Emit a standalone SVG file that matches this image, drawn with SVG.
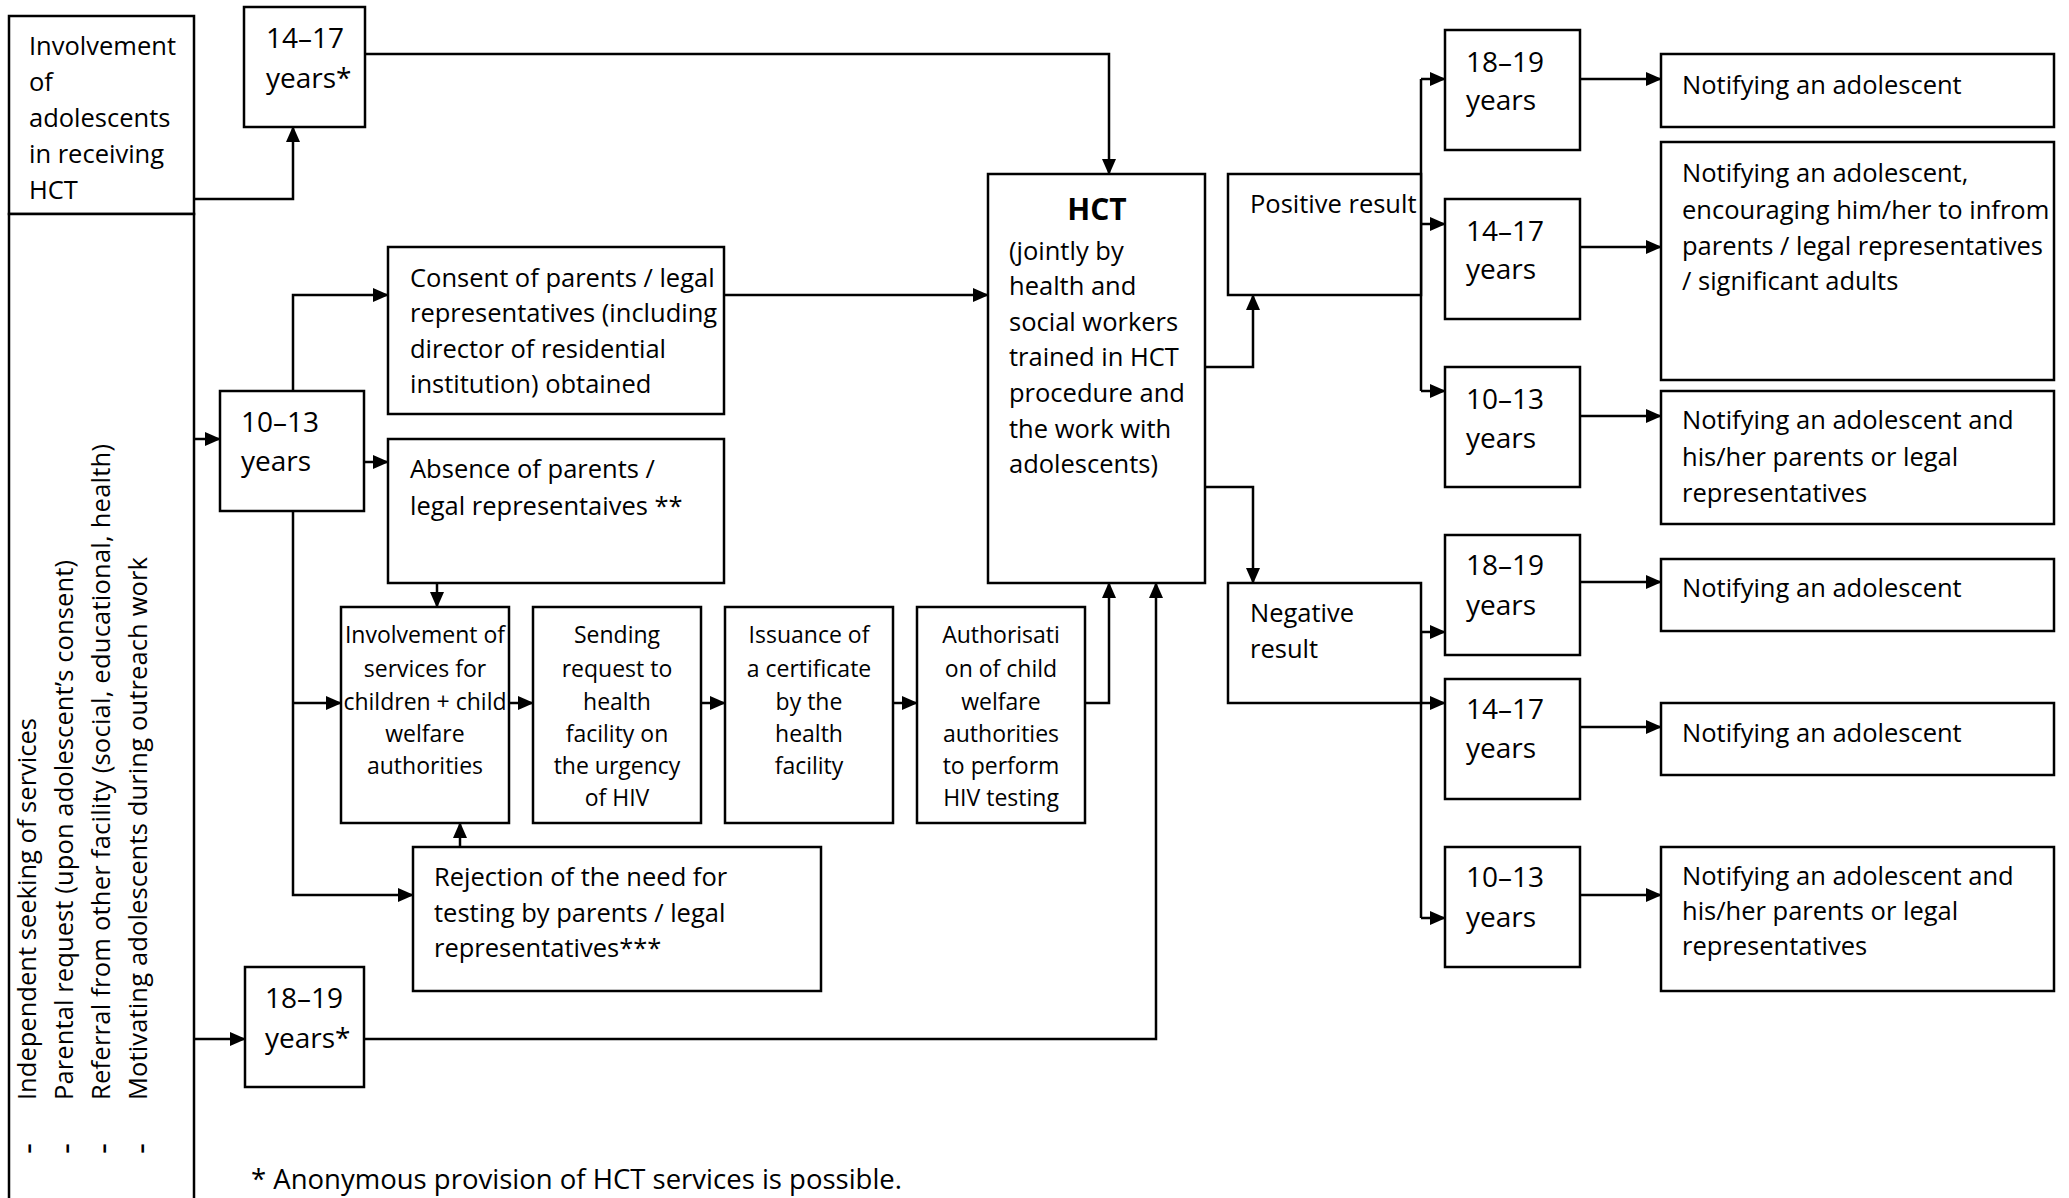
<svg xmlns="http://www.w3.org/2000/svg" width="2069" height="1198" viewBox="0 0 2069 1198">
<style>
.box{fill:#fff;stroke:#000;stroke-width:2.5}
.ln{fill:none;stroke:#000;stroke-width:2.5}
.a{marker-end:url(#ah)}
text{font-family:"Open Sans","Liberation Sans",sans-serif;font-size:25.5px;fill:#000}
.age{font-size:28px}
.sm{font-size:23px;text-anchor:middle}
.b{font-weight:bold;font-size:30px;text-anchor:middle}
.foot{font-size:27.5px}
.dash{font-size:34px}
</style>
<defs>
<marker id="ah" markerUnits="userSpaceOnUse" markerWidth="16" markerHeight="14" viewBox="0 0 16 14" refX="15" refY="7" orient="auto">
<path d="M0,0 L16,7 L0,14 z" fill="#000"/>
</marker>
</defs>
<rect width="2069" height="1198" fill="#fff"/>

<g id="connectors">
<path class="ln a" d="M194,199 H293 V127"/>
<path class="ln a" d="M365,54 H1109 V174"/>
<path class="ln a" d="M194,439 H220"/>
<path class="ln a" d="M293,391 V295 H388"/>
<path class="ln a" d="M339,462 H388"/>
<path class="ln a" d="M293,511 V895 H413"/>
<path class="ln a" d="M293,703 H341"/>
<path class="ln a" d="M437,583 V607"/>
<path class="ln a" d="M460,847 V823"/>
<path class="ln a" d="M509,703 H533"/>
<path class="ln a" d="M701,703 H725"/>
<path class="ln a" d="M893,703 H917"/>
<path class="ln a" d="M1085,703 H1109 V583"/>
<path class="ln a" d="M724,295 H988"/>
<path class="ln a" d="M194,1039 H245"/>
<path class="ln a" d="M364,1039 H1156 V583"/>
<path class="ln a" d="M1205,367 H1253 V295"/>
<path class="ln a" d="M1205,487 H1253 V583"/>
<path class="ln" d="M1421,79 V391"/>
<path class="ln a" d="M1421,79 H1445"/>
<path class="ln a" d="M1421,224 H1445"/>
<path class="ln a" d="M1421,391 H1445"/>
<path class="ln" d="M1421,632 V918"/>
<path class="ln a" d="M1421,632 H1445"/>
<path class="ln a" d="M1421,703 H1445"/>
<path class="ln a" d="M1421,918 H1445"/>
<path class="ln a" d="M1564,79 H1661"/>
<path class="ln a" d="M1564,247 H1661"/>
<path class="ln a" d="M1564,416 H1661"/>
<path class="ln a" d="M1565,582 H1661"/>
<path class="ln a" d="M1565,727 H1661"/>
<path class="ln a" d="M1565,895 H1661"/>
</g>

<g id="involvement">
<rect class="box" x="9" y="16" width="185" height="198"/>
<text x="29" y="55">Involvement</text>
<text x="29" y="91">of</text>
<text x="29" y="127">adolescents</text>
<text x="29" y="163">in receiving</text>
<text x="29" y="199">HCT</text>
</g>

<g id="sources">
<rect class="box" x="9" y="214" width="185" height="1010"/>
<text class="dash" transform="translate(39,1154) rotate(-90)">-</text>
<text class="dash" transform="translate(77,1154) rotate(-90)">-</text>
<text class="dash" transform="translate(114,1154) rotate(-90)">-</text>
<text class="dash" transform="translate(152,1154) rotate(-90)">-</text>
<text transform="translate(36,1100) rotate(-90)" textLength="382" lengthAdjust="spacing">Independent seeking of services</text>
<text transform="translate(73,1100) rotate(-90)" textLength="540" lengthAdjust="spacing">Parental request (upon adolescent’s consent)</text>
<text transform="translate(110,1100) rotate(-90)" textLength="656" lengthAdjust="spacing">Referral from other facility (social, educational, health)</text>
<text transform="translate(147,1100) rotate(-90)" textLength="543" lengthAdjust="spacing">Motivating adolescents during outreach work</text>
</g>

<g id="age1417top">
<rect class="box" x="244" y="7" width="121" height="120"/>
<text class="age" x="266" y="48">14–17</text>
<text class="age" x="266" y="88">years*</text>
</g>

<g id="age1013left">
<rect class="box" x="220" y="391" width="144" height="120"/>
<text class="age" x="241" y="432">10–13</text>
<text class="age" x="241" y="471">years</text>
</g>

<g id="age1819left">
<rect class="box" x="245" y="967" width="119" height="120"/>
<text class="age" x="265" y="1008">18–19</text>
<text class="age" x="265" y="1048">years*</text>
</g>

<g id="consent">
<rect class="box" x="388" y="247" width="336" height="167"/>
<text x="410" y="287">Consent of parents / legal</text>
<text x="410" y="322">representatives (including</text>
<text x="410" y="358">director of residential</text>
<text x="410" y="393">institution) obtained</text>
</g>

<g id="absence">
<rect class="box" x="388" y="439" width="336" height="144"/>
<text x="410" y="478">Absence of parents /</text>
<text x="410" y="515">legal representaives **</text>
</g>

<g id="services">
<rect class="box" x="341" y="607" width="168" height="216"/>
<text class="sm" x="425" y="643">Involvement of</text>
<text class="sm" x="425" y="677">services for</text>
<text class="sm" x="425" y="710">children + child</text>
<text class="sm" x="425" y="742">welfare</text>
<text class="sm" x="425" y="774">authorities</text>
</g>

<g id="sending">
<rect class="box" x="533" y="607" width="168" height="216"/>
<text class="sm" x="617" y="643">Sending</text>
<text class="sm" x="617" y="677">request to</text>
<text class="sm" x="617" y="710">health</text>
<text class="sm" x="617" y="742">facility on</text>
<text class="sm" x="617" y="774">the urgency</text>
<text class="sm" x="617" y="806">of HIV</text>
</g>

<g id="issuance">
<rect class="box" x="725" y="607" width="168" height="216"/>
<text class="sm" x="809" y="643">Issuance of</text>
<text class="sm" x="809" y="677">a certificate</text>
<text class="sm" x="809" y="710">by the</text>
<text class="sm" x="809" y="742">health</text>
<text class="sm" x="809" y="774">facility</text>
</g>

<g id="authorisation">
<rect class="box" x="917" y="607" width="168" height="216"/>
<text class="sm" x="1001" y="643">Authorisati</text>
<text class="sm" x="1001" y="677">on of child</text>
<text class="sm" x="1001" y="710">welfare</text>
<text class="sm" x="1001" y="742">authorities</text>
<text class="sm" x="1001" y="774">to perform</text>
<text class="sm" x="1001" y="806">HIV testing</text>
</g>

<g id="rejection">
<rect class="box" x="413" y="847" width="408" height="144"/>
<text x="434" y="886">Rejection of the need for</text>
<text x="434" y="922">testing by parents / legal</text>
<text x="434" y="957">representatives***</text>
</g>

<g id="hct">
<rect class="box" x="988" y="174" width="217" height="409"/>
<text class="b" x="1097" y="220">HCT</text>
<text x="1009" y="260">(jointly by</text>
<text x="1009" y="295">health and</text>
<text x="1009" y="331">social workers</text>
<text x="1009" y="366">trained in HCT</text>
<text x="1009" y="402">procedure and</text>
<text x="1009" y="438">the work with</text>
<text x="1009" y="473">adolescents)</text>
</g>

<g id="positive">
<rect class="box" x="1228" y="174" width="193" height="121"/>
<text x="1250" y="213">Positive result</text>
</g>

<g id="negative">
<rect class="box" x="1228" y="583" width="193" height="120"/>
<text x="1250" y="622">Negative</text>
<text x="1250" y="658">result</text>
</g>

<g id="pos1819">
<rect class="box" x="1445" y="30" width="135" height="120"/>
<text class="age" x="1466" y="72">18–19</text>
<text class="age" x="1466" y="110">years</text>
</g>
<g id="pos1417">
<rect class="box" x="1445" y="199" width="135" height="120"/>
<text class="age" x="1466" y="241">14–17</text>
<text class="age" x="1466" y="279">years</text>
</g>
<g id="pos1013">
<rect class="box" x="1445" y="367" width="135" height="120"/>
<text class="age" x="1466" y="409">10–13</text>
<text class="age" x="1466" y="448">years</text>
</g>

<g id="neg1819">
<rect class="box" x="1445" y="535" width="135" height="120"/>
<text class="age" x="1466" y="575">18–19</text>
<text class="age" x="1466" y="615">years</text>
</g>
<g id="neg1417">
<rect class="box" x="1445" y="679" width="135" height="120"/>
<text class="age" x="1466" y="719">14–17</text>
<text class="age" x="1466" y="758">years</text>
</g>
<g id="neg1013">
<rect class="box" x="1445" y="847" width="135" height="120"/>
<text class="age" x="1466" y="887">10–13</text>
<text class="age" x="1466" y="927">years</text>
</g>

<g id="notifyP1">
<rect class="box" x="1661" y="54" width="393" height="73"/>
<text x="1682" y="94">Notifying an adolescent</text>
</g>
<g id="notifyP2">
<rect class="box" x="1661" y="142" width="393" height="238"/>
<text x="1682" y="182">Notifying an adolescent,</text>
<text x="1682" y="219">encouraging him/her to infrom</text>
<text x="1682" y="255">parents / legal representatives</text>
<text x="1682" y="290">/ significant adults</text>
</g>
<g id="notifyP3">
<rect class="box" x="1661" y="391" width="393" height="133"/>
<text x="1682" y="429">Notifying an adolescent and</text>
<text x="1682" y="466">his/her parents or legal</text>
<text x="1682" y="502">representatives</text>
</g>
<g id="notifyN1">
<rect class="box" x="1661" y="559" width="393" height="72"/>
<text x="1682" y="597">Notifying an adolescent</text>
</g>
<g id="notifyN2">
<rect class="box" x="1661" y="703" width="393" height="72"/>
<text x="1682" y="742">Notifying an adolescent</text>
</g>
<g id="notifyN3">
<rect class="box" x="1661" y="847" width="393" height="144"/>
<text x="1682" y="885">Notifying an adolescent and</text>
<text x="1682" y="920">his/her parents or legal</text>
<text x="1682" y="955">representatives</text>
</g>

<g id="footnote">
<text class="foot" x="251" y="1189">* Anonymous provision of HCT services is possible.</text>
</g>
</svg>
